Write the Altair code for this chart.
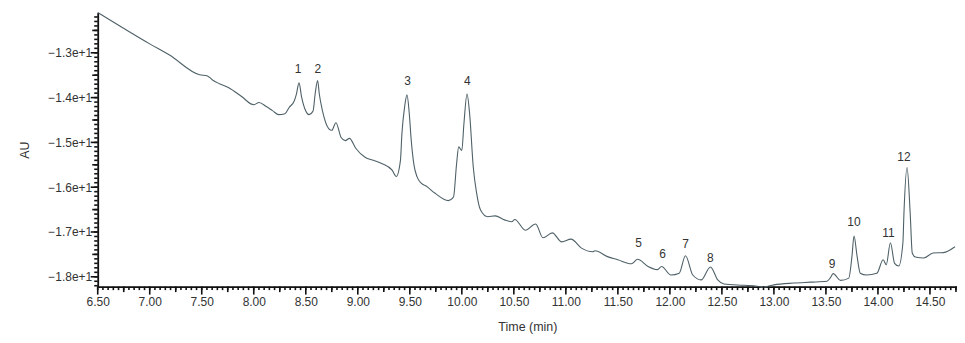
import altair as alt
import pandas as pd
import numpy as np

# chromatogram trace
time_min = [6.50, 6.74, 7.00, 7.19, 7.48, 7.55, 7.60, 7.67, 7.76, 7.88, 8.00, 8.05, 8.12, 8.18, 8.24, 8.30,
            8.34, 8.39, 8.41, 8.435, 8.46, 8.50, 8.53, 8.57, 8.59, 8.614, 8.63, 8.66, 8.72, 8.75, 8.79,
            8.84, 8.88, 8.92, 8.98, 9.07, 9.15, 9.23, 9.33, 9.37, 9.41, 9.424, 9.45, 9.473, 9.495, 9.514,
            9.54, 9.57, 9.61, 9.66, 9.74, 9.87, 9.92, 9.95, 9.97, 10.00, 10.02, 10.05, 10.075, 10.11,
            10.14, 10.18, 10.25, 10.32, 10.41, 10.48, 10.51, 10.61, 10.71, 10.78, 10.87, 10.96, 11.05,
            11.15, 11.26, 11.28, 11.40, 11.50, 11.63, 11.69, 11.79, 11.88, 11.92, 12.01, 12.09, 12.15,
            12.22, 12.30, 12.39, 12.46, 12.52, 12.71, 12.84, 12.90, 13.00, 13.19, 13.35, 13.51, 13.54,
            13.57, 13.64, 13.72, 13.75, 13.77, 13.80, 13.83, 13.89, 13.99, 14.05, 14.08, 14.12, 14.16,
            14.20, 14.24, 14.25, 14.28, 14.31, 14.33, 14.36, 14.44, 14.53, 14.63, 14.74]
au = [-12.10, -12.44, -12.80, -13.05, -13.49, -13.51, -13.60, -13.69, -13.78, -13.97, -14.16, -14.11,
      -14.20, -14.29, -14.38, -14.36, -14.22, -14.07, -13.92, -13.67, -13.99, -14.30, -14.38, -14.30,
      -13.92, -13.62, -13.92, -14.29, -14.69, -14.73, -14.56, -14.89, -14.96, -14.91, -15.13, -15.33,
      -15.40, -15.47, -15.62, -15.76, -15.40, -14.81, -14.21, -13.94, -14.36, -14.96, -15.50, -15.77,
      -15.91, -15.98, -16.13, -16.30, -16.22, -15.47, -15.10, -15.18, -14.59, -13.92, -14.36, -15.55,
      -16.10, -16.51, -16.66, -16.64, -16.73, -16.77, -16.72, -16.96, -16.82, -17.13, -17.02, -17.22,
      -17.16, -17.36, -17.44, -17.42, -17.55, -17.62, -17.71, -17.61, -17.77, -17.84, -17.77, -17.96,
      -17.92, -17.53, -17.96, -18.07, -17.78, -18.07, -18.16, -18.19, -18.21, -18.23, -18.18, -18.14,
      -18.12, -18.10, -18.03, -17.93, -18.08, -18.03, -17.55, -17.09, -17.55, -17.92, -17.96, -17.92,
      -17.62, -17.73, -17.24, -17.70, -17.76, -17.24, -16.58, -15.56, -16.58, -17.47, -17.56, -17.58,
      -17.47, -17.46, -17.33]

# peak labels
peak_names = ["1", "2", "3", "4", "5", "6", "7", "8", "9", "10", "11", "12"]
peak_t = [8.425, 8.617, 9.479, 10.054, 11.70, 11.93, 12.15, 12.39, 13.56, 13.77, 14.10, 14.25]
peak_v = [-13.36, -13.36, -13.62, -13.62, -17.24, -17.49, -17.27, -17.58, -17.71, -16.78, -17.02, -15.33]

# axis tick positions
x_major = [6.5, 7.0, 7.5, 8.0, 8.5, 9.0, 9.5, 10.0, 10.5, 11.0, 11.5, 12.0, 12.5, 13.0, 13.5, 14.0, 14.5]
x_mid = [6.75, 7.25, 7.75, 8.25, 8.75, 9.25, 9.75, 10.25, 10.75, 11.25, 11.75, 12.25, 12.75, 13.25,
         13.75, 14.25, 14.75]
x_minor = [round(v, 2) for v in np.arange(6.5, 14.76, 0.05).tolist()]
y_major = [-13, -14, -15, -16, -17, -18]
y_mid = [-12.5, -13.5, -14.5, -15.5, -16.5, -17.5]
y_minor = [round(v, 1) for v in np.arange(-18.2, -12.1, 0.1).tolist()]

W, H = 862, 275
FONT = "Liberation Sans"
INK = "#111111"

df = pd.DataFrame({"t": time_min, "v": au})
labels_df = pd.DataFrame({"name": peak_names, "t": peak_t, "v": peak_v})

xs = alt.Scale(domain=[6.5, 14.76], nice=False, zero=False)
ys = alt.Scale(domain=[-18.22, -12.1], nice=False, zero=False)

main = alt.Chart(df).mark_line(color="#4f6168", strokeWidth=1.1, interpolate="monotone").encode(
    x=alt.X("t:Q", scale=xs, axis=alt.Axis(
        values=x_major, format=".2f", title="Time (min)", orient="bottom", grid=False,
        ticks=False, domainColor=INK, domainWidth=1.8,
        labelFont=FONT, labelFontSize=12, labelColor="#333", labelPadding=10, labelFlush=False,
        titleFont=FONT, titleFontSize=12.5, titleFontWeight="normal", titleColor="#333",
        titlePadding=13)),
    y=alt.Y("v:Q", scale=ys, axis=alt.Axis(
        values=y_major, format=".1e", title="AU", orient="left", grid=False,
        ticks=False, domainColor=INK, domainWidth=1.8,
        labelFont=FONT, labelFontSize=12, labelColor="#333", labelPadding=6, labelFlush=False,
        titleFont=FONT, titleFontSize=12.5, titleFontWeight="normal", titleColor="#333",
        titlePadding=16)),
)


def x_ticks(vals, length):
    d = pd.DataFrame({"t": vals})
    return alt.Chart(d).mark_rule(color=INK, strokeWidth=1.6).encode(
        x=alt.X("t:Q", scale=xs, axis=None),
        y=alt.value(H), y2=alt.value(H + length),
    )


def y_ticks(vals, length):
    d = pd.DataFrame({"v": vals})
    return alt.Chart(d).mark_rule(color=INK, strokeWidth=1.6).encode(
        y=alt.Y("v:Q", scale=ys, axis=None),
        x=alt.value(0), x2=alt.value(-length),
    )


text = alt.Chart(labels_df).mark_text(font=FONT, fontSize=12, color="#333").encode(
    x=alt.X("t:Q", scale=xs, axis=None),
    y=alt.Y("v:Q", scale=ys, axis=None),
    text="name:N",
)

chart = alt.layer(
    main,
    x_ticks(x_minor, 3.5), x_ticks(x_mid, 5.5), x_ticks(x_major, 8),
    y_ticks(y_minor, 3.5), y_ticks(y_mid, 5.5), y_ticks(y_major, 7),
    text,
).resolve_axis(x="independent", y="independent").properties(
    width=W, height=H,
    autosize=alt.AutoSizeParams(type="none"),
    padding={"left": 90, "top": 4, "right": 0, "bottom": 48},
).configure_view(stroke=None)

chart.save("out.html", embed_options={"renderer": "svg", "actions": False})
